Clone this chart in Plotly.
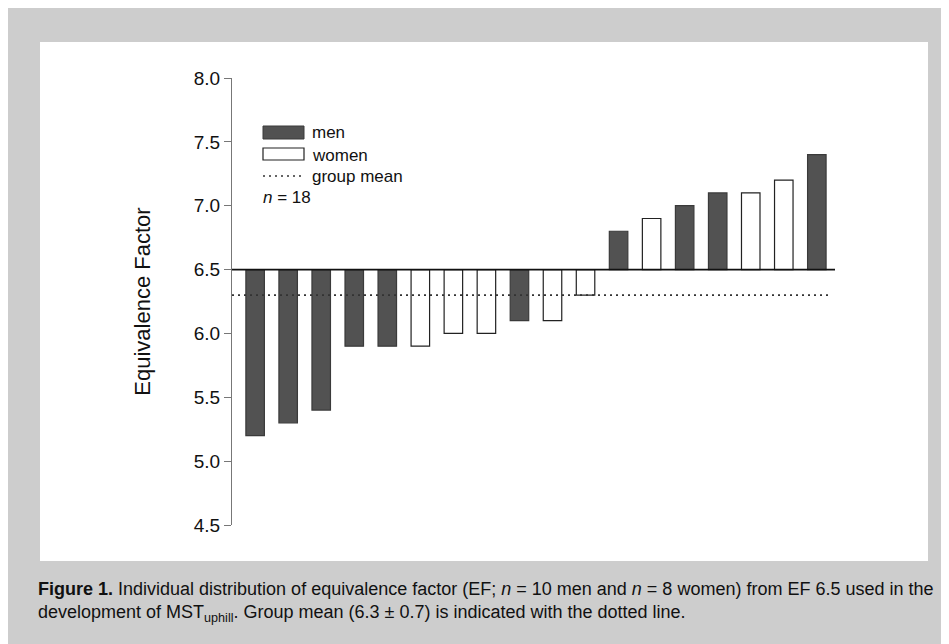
import plotly.graph_objects as go

# Data
subjects = list(range(1, 19))
sex = ["men", "men", "men", "men", "men", "women", "women", "women", "men",
       "women", "women", "men", "women", "men", "men", "women", "women", "men"]
ef_values = [5.2, 5.3, 5.4, 5.9, 5.9, 5.9, 6.0, 6.0, 6.1,
             6.1, 6.3, 6.8, 6.9, 7.0, 7.1, 7.1, 7.2, 7.4]
reference_ef = 6.5
group_mean = 6.3
y_ticks = [4.5, 5.0, 5.5, 6.0, 6.5, 7.0, 7.5, 8.0]

FONT = "Liberation Sans, Arial, Helvetica, sans-serif"
MEN_COLOR = "#525252"

# page is drawn with an 8px body margin
OFF = 8
W, H = 949 - OFF, 644 - OFF
PL, PR, PT, PB = 232 - OFF, 835 - OFF, 78 - OFF, 525 - OFF   # plot area in figure px


def px_x(p):
    return (p - OFF - PL) / (PR - PL)


def px_y(p):
    return (PB - (p - OFF)) / (PB - PT)


xs = list(range(len(ef_values)))
fig = go.Figure()

# white panel background (first, so it sits beneath everything)
fig.add_shape(type="rect", xref="paper", yref="paper",
              x0=px_x(40), x1=px_x(928), y0=px_y(561), y1=px_y(42),
              fillcolor="white", line=dict(width=0), layer="below")

for group, fill in [("men", MEN_COLOR), ("women", "white")]:
    gx = [x for x, s in zip(xs, sex) if s == group]
    gy = [v - reference_ef for v, s in zip(ef_values, sex) if s == group]
    fig.add_trace(go.Bar(
        x=gx, y=gy, base=reference_ef, width=0.56, name=group,
        marker=dict(color=fill, line=dict(color="#222222" if group == "women" else "#3a3a3a", width=1.2)),
        showlegend=False,
    ))

# group mean dotted line
fig.add_shape(type="line", xref="paper", yref="y", x0=0, x1=0.995, y0=group_mean, y1=group_mean,
              line=dict(color="#333333", width=1.6, dash="2px,4px"), layer="above")
# reference line at EF 6.5
fig.add_shape(type="line", xref="paper", yref="y", x0=0, x1=1, y0=reference_ef, y1=reference_ef,
              line=dict(color="#111111", width=1.8))

# manual legend
fig.add_shape(type="rect", xref="paper", yref="paper", x0=px_x(263), x1=px_x(304),
              y0=px_y(139), y1=px_y(126), fillcolor=MEN_COLOR, line=dict(color="#3a3a3a", width=1))
fig.add_shape(type="rect", xref="paper", yref="paper", x0=px_x(263), x1=px_x(304),
              y0=px_y(160), y1=px_y(148), fillcolor="white", line=dict(color="#222222", width=1.2))
fig.add_shape(type="line", xref="paper", yref="paper", x0=px_x(263), x1=px_x(304),
              y0=px_y(176), y1=px_y(176), line=dict(color="#333333", width=1.6, dash="2px,4px"))

legend_items = [("men", 132), ("women", 155), ("group mean", 176), ("<i>n</i> = 18", 198)]
for i, (txt, yp) in enumerate(legend_items):
    fig.add_annotation(xref="paper", yref="paper", x=px_x(310 if i < 3 else 261), y=px_y(yp),
                       text=txt, showarrow=False, xanchor="left", yanchor="middle",
                       font=dict(family=FONT, size=17, color="#111111"))

# caption
fig.add_annotation(xref="paper", yref="paper", x=px_x(36), y=px_y(589),
                   text="<b>Figure 1.</b> Individual distribution of equivalence factor (EF; <i>n</i> = 10 men and <i>n</i> = 8 women) from EF 6.5 used in the",
                   showarrow=False, xanchor="left", yanchor="middle",
                   font=dict(family=FONT, size=18, color="#111111"))
fig.add_annotation(xref="paper", yref="paper", x=px_x(36), y=px_y(613),
                   text="development of MST<sub>uphill</sub>. Group mean (6.3 ± 0.7) is indicated with the dotted line.",
                   showarrow=False, xanchor="left", yanchor="middle",
                   font=dict(family=FONT, size=18, color="#111111"))

fig.update_layout(
    width=W, height=H,
    margin=dict(l=PL, r=W - PR, t=PT, b=H - PB),
    paper_bgcolor="#cdcdcd",
    plot_bgcolor="rgba(0,0,0,0)",
    bargap=0.4,
    font=dict(family=FONT, color="#111111"),
)
fig.update_xaxes(range=[-0.7, 17.55], showticklabels=False, showgrid=False, zeroline=False,
                 showline=False, ticks="")
fig.update_yaxes(range=[4.5, 8.0], tickvals=y_ticks, ticktext=[f"{v:.1f}" for v in y_ticks],
                 showgrid=False, zeroline=False, showline=True, linecolor="#777777", linewidth=1.2,
                 ticks="outside", ticklen=7, tickcolor="#777777", tickfont=dict(size=19, family=FONT),
                 title=dict(text="Equivalence Factor", font=dict(size=22, family=FONT), standoff=36))

fig.write_html("out.html")
